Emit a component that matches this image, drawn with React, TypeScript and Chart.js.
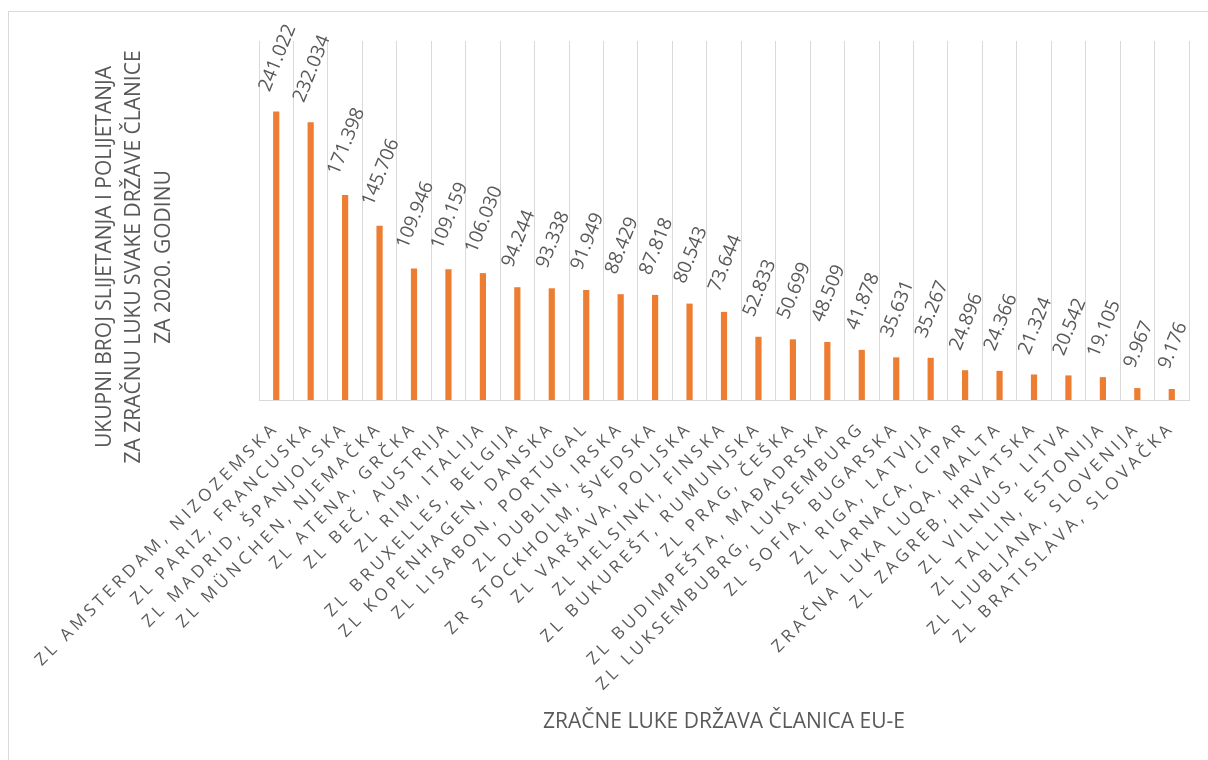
import React, { useEffect, useRef } from "react";
import { Chart, registerables } from "chart.js";

Chart.register(...registerables);

const airports: string[] = [
  "ZL AMSTERDAM, NIZOZEMSKA",
  "ZL PARIZ, FRANCUSKA",
  "ZL MADRID, ŠPANJOLSKA",
  "ZL MÜNCHEN, NJEMAČKA",
  "ZL ATENA, GRČKA",
  "ZL BEČ, AUSTRIJA",
  "ZL RIM, ITALIJA",
  "ZL BRUXELLES, BELGIJA",
  "ZL KOPENHAGEN, DANSKA",
  "ZL LISABON, PORTUGAL",
  "ZL DUBLIN, IRSKA",
  "ZR STOCKHOLM, ŠVEDSKA",
  "ZL VARŠAVA, POLJSKA",
  "ZL HELSINKI, FINSKA",
  "ZL BUKUREŠT, RUMUNJSKA",
  "ZL PRAG, ČEŠKA",
  "ZL BUDIMPEŠTA, MAĐADRSKA",
  "ZL LUKSEMBUBRG, LUKSEMBURG",
  "ZL SOFIA, BUGARSKA",
  "ZL RIGA, LATVIJA",
  "ZL LARNACA, CIPAR",
  "ZRAČNA LUKA LUQA, MALTA",
  "ZL ZAGREB, HRVATSKA",
  "ZL VILNIUS, LITVA",
  "ZL TALLIN, ESTONIJA",
  "ZL LJUBLJANA, SLOVENIJA",
  "ZL BRATISLAVA, SLOVAČKA",
];

const movements: number[] = [
  241.022, 232.034, 171.398, 145.706, 109.946, 109.159, 106.03, 94.244, 93.338,
  91.949, 88.429, 87.818, 80.543, 73.644, 52.833, 50.699, 48.509, 41.878,
  35.631, 35.267, 24.896, 24.366, 21.324, 20.542, 19.105, 9.967, 9.176,
];

const yAxisTitle: string[] = [
  "UKUPNI BROJ SLIJETANJA I POLIJETANJA",
  "ZA ZRAČNU LUKU SVAKE DRŽAVE ČLANICE",
  "ZA 2020. GODINU",
];
const xAxisTitle = "ZRAČNE LUKE DRŽAVA ČLANICA EU-E";

const yMin = 0;
const yMax = 300;

const FONT = "'Open Sans', 'Noto Sans', sans-serif";
const TEXT = "#595959";
const TICK_SPACING = "4px";

const spacingPlugin = {
  id: "letterSpacing",
  beforeUpdate(chart: any) {
    chart.ctx.letterSpacing = TICK_SPACING;
  },
  beforeDraw(chart: any) {
    chart.ctx.letterSpacing = TICK_SPACING;
  },
};

const labelPlugin = {
  id: "valueLabels",
  afterDatasetsDraw(chart: any) {
    const ctx = chart.ctx;
    const meta = chart.getDatasetMeta(0);
    const size = 19;
    const theta = (68 * Math.PI) / 180;
    const capH = size * 0.72;
    ctx.save();
    ctx.letterSpacing = "0px";
    ctx.font = `${size}px ${FONT}`;
    ctx.fillStyle = TEXT;
    ctx.textAlign = "center";
    ctx.textBaseline = "alphabetic";
    meta.data.forEach((bar: any, i: number) => {
      const text = movements[i].toFixed(3);
      const w = ctx.measureText(text).width;
      const boxH = w * Math.sin(theta) + capH * Math.cos(theta);
      const cx = bar.x;
      const cy = bar.y - 19 - boxH / 2;
      ctx.save();
      ctx.translate(cx, cy);
      ctx.rotate(-theta);
      ctx.fillText(text, 0, capH / 2);
      ctx.restore();
    });
    ctx.restore();
  },
  afterDraw(chart: any) {
    const ctx = chart.ctx;
    const area = chart.chartArea;
    ctx.save();
    ctx.letterSpacing = "0px";
    ctx.fillStyle = TEXT;
    ctx.font = `21px ${FONT}`;
    ctx.textAlign = "center";
    ctx.textBaseline = "middle";
    const cy = area.top + 216;
    yAxisTitle.forEach((line, i) => {
      ctx.save();
      ctx.translate(area.left - 154 + i * 29.5, cy);
      ctx.rotate(-Math.PI / 2);
      ctx.fillText(line, 0, 0);
      ctx.restore();
    });
    ctx.textBaseline = "alphabetic";
    ctx.fillText(xAxisTitle, (area.left + area.right) / 2, area.bottom + 328);
    ctx.restore();
  },
};

export default function App() {
  const ref = useRef<HTMLCanvasElement | null>(null);

  useEffect(() => {
    if (!ref.current) return;
    const chart = new Chart(ref.current, {
      type: "bar",
      data: {
        labels: airports,
        datasets: [
          {
            data: movements,
            backgroundColor: "#ED7D31",
            borderWidth: 0,
            barPercentage: 0.18,
            categoryPercentage: 1,
          },
        ],
      },
      options: {
        animation: false,
        responsive: false,
        layout: { padding: { left: 259, top: 41, right: 19, bottom: 0 } },
        plugins: {
          legend: { display: false },
          tooltip: { enabled: false },
          title: { display: false },
        },
        scales: {
          x: {
            afterFit(scale: any) {
              scale.height = 360;
            },
            grid: {
              display: true,
              color: "#D9D9D9",
              lineWidth: 1,
              drawTicks: false,
              offset: true,
            },
            border: { display: true, color: "#D9D9D9", width: 1 },
            ticks: {
              autoSkip: false,
              maxRotation: 45,
              minRotation: 45,
              padding: 18,
              color: TEXT,
              font: { family: FONT, size: 17 },
            },
          },
          y: {
            display: false,
            min: yMin,
            max: yMax,
          },
        },
      },
      plugins: [spacingPlugin, labelPlugin],
    });
    return () => chart.destroy();
  }, []);

  return (
    <div
      style={{
        position: "fixed",
        left: 0,
        top: 0,
        width: 1208,
        height: 760,
        overflow: "hidden",
        background: "#fff",
      }}
    >
      <div
        style={{
          position: "absolute",
          left: 8,
          top: 11,
          width: 1400,
          height: 1000,
          border: "1px solid #D9D9D9",
          boxSizing: "border-box",
        }}
      />
      <canvas
        ref={ref}
        width={1208}
        height={760}
        style={{ position: "absolute", left: 0, top: 0, width: 1208, height: 760 }}
      />
    </div>
  );
}
